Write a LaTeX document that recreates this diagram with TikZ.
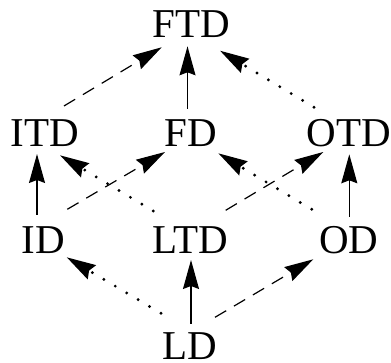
\documentclass[tikz,border=0pt]{standalone}
\usepackage{fontspec}
\setmainfont{Liberation Serif}
\usetikzlibrary{arrows.meta}
\begin{document}
\begin{tikzpicture}[x=1pt,y=1pt,
  lbl/.style={inner sep=0pt, anchor=base, font=\fontsize{41}{41}\selectfont, text height=27pt, text depth=0pt},
  arr/.style={line width=1.2pt, -{Stealth[length=29pt, width=16pt, inset=3pt]}},
  solidarr/.style={arr},
  dasharr/.style={arr, dash pattern=on 13pt off 9pt},
  dotarr/.style={arr, line width=3.2pt, line cap=round, dash pattern=on 0pt off 13.3pt}]
\useasboundingbox (0,0) rectangle (391,363);
\node[lbl] (FTD) at (191,325.5) {FTD};
\node[lbl] (ITD) at (44.8,216.5) {ITD};
\node[lbl] (FD)  at (191,216.5) {FD};
\node[lbl] (OTD) at (349,216.5) {OTD};
\node[lbl] (ID)  at (43,109) {ID};
\node[lbl] (LTD) at (190.5,109) {LTD};
\node[lbl] (OD)  at (349,109) {OD};
\node[lbl] (LD)  at (189.5,3) {LD};
% row 2 -> row 1
\draw[dasharr]  ([shift={(19.2,40.5)}]ITD.base) -- ([shift={(-29.3,-9.8)}]FTD.base);
\draw[solidarr] ([shift={(-3.5,37.8)}]FD.base) -- ([shift={(-3.5,-8.8)}]FTD.base);
\draw[dotarr]   ([shift={(-35,39.2)}]OTD.base) -- ([shift={(29,-13.2)}]FTD.base);
% row 3 -> row 2
\draw[solidarr] ([shift={(-6,39)}]ID.base) -- ([shift={(-7.8,-7.5)}]ITD.base);
\draw[dasharr]  ([shift={(24.3,44.7)}]ID.base) -- ([shift={(-26,-5.5)}]FD.base);
\draw[dotarr]   ([shift={(-37.2,43)}]LTD.base) -- ([shift={(15.2,-8.8)}]ITD.base);
\draw[dasharr]  ([shift={(35.2,43.7)}]LTD.base) -- ([shift={(-25.7,-5.5)}]OTD.base);
\draw[dotarr]   ([shift={(-37.3,44.7)}]OD.base) -- ([shift={(27.3,-6.8)}]FD.base);
\draw[solidarr] ([shift={(0.3,37.3)}]OD.base) -- ([shift={(0.3,-7.8)}]OTD.base);
% row 4 -> row 3
\draw[dotarr]   ([shift={(-28.5,46.7)}]LD.base) -- ([shift={(23.7,-3.3)}]ID.base);
\draw[solidarr] ([shift={(1.5,36)}]LD.base) -- ([shift={(0.5,-6)}]LTD.base);
\draw[dasharr]  ([shift={(25.5,42.7)}]LD.base) -- ([shift={(-35.7,-5.3)}]OD.base);
\end{tikzpicture}
\end{document}
